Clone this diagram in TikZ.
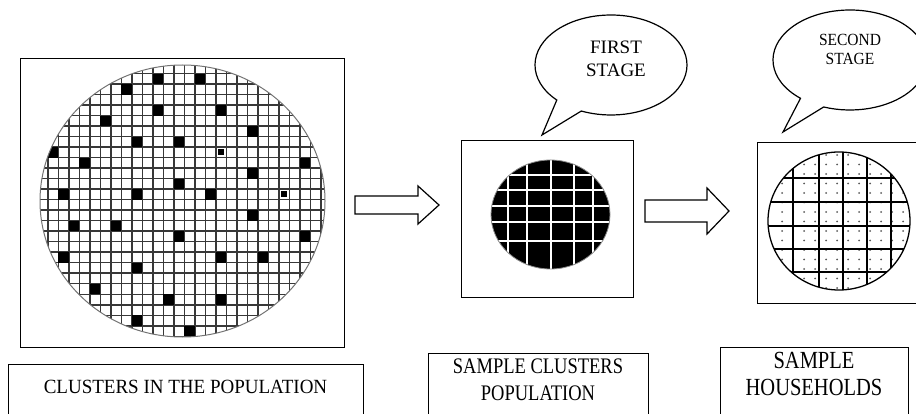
\documentclass[tikz,border=0pt]{standalone}
\usepackage{fontspec}
\setmainfont{Liberation Serif}
\usetikzlibrary{positioning}

\tikzset{
  box/.style={draw, line width=1.2pt, inner sep=0pt, anchor=north west},
  lbl/.style={align=center, inner sep=0pt},
  bubble/.style={draw, line width=1.2pt, fill=white, line join=miter},
  blk/.style={draw, line width=1.2pt, fill=white, line join=miter},
  gline/.style={line width=1.5pt, black!78},
}
\newcommand\tallstack[2]{\scalebox{1}[#1]{\begin{tabular}{@{}c@{}}#2\end{tabular}}}

\begin{document}
\begin{tikzpicture}[x=1pt,y=-1pt]
  \useasboundingbox (0,0) rectangle (916,414);
  \clip (0,0) rectangle (916,414);

  \node[box, minimum width=324, minimum height=289] (pop) at (20,58) {};
  \node[box, minimum width=172, minimum height=157] (samp) at (461,140) {};
  \node[box, minimum width=200, minimum height=161] (hh) at (757,142) {};

  \node[box, minimum width=355, minimum height=80] (lab1) at (8,364) {};
  \node[box, minimum width=220, minimum height=80] (lab2) at (428,353) {};
  \node[box, minimum width=188, minimum height=80] (lab3) at (720,347) {};
  \node[lbl, font=\fontsize{19}{27}\selectfont] (poptxt) at (185.5,388) {\tallstack{1.06}{CLUSTERS IN THE POPULATION}};
  \node[lbl, font=\fontsize{18.5}{22.5}\selectfont] (samptxt) at (538,381.5) {\tallstack{1.2}{SAMPLE CLUSTERS\\POPULATION}};
  \node[lbl, font=\fontsize{20.5}{22.5}\selectfont] (hhtxt) at (814,376.5) {\tallstack{1.2}{SAMPLE\\HOUSEHOLDS}};

  \begin{scope}
    \clip (182.5,201) ellipse [x radius=142.5, y radius=136];
    \foreach \k in {0,...,28} {
      \draw[gline] ({37.25+10.5*\k},60) -- ++(0,285);
      \draw[gline] (35,{63.25+10.5*\k}) -- ++(295,0);
    }
    \foreach \i/\j in {10/0,14/0,7/1,10/3,16/3,5/4,19/5,8/6,12/6,0/7,3/8,24/8,19/9,
                       12/10,1/11,8/11,15/11,19/13,2/14,6/14,12/15,24/15,1/17,16/17,
                       20/17,8/18,4/20,11/21,16/21,8/23,13/24}
      \fill ({47.75+10.5*\i},{73.75+10.5*\j}) rectangle ++(10.5,10.5);
    \foreach \i/\j in {16/7,22/11}
      \fill ({50+10.5*\i},{76+10.5*\j}) rectangle ++(6,6);
  \end{scope}
  \draw[black!55, line width=1pt] (182.5,201) ellipse [x radius=142.5, y radius=136];

  \draw[blk] (355,196) -- (418,196) -- (418,186) -- (439,205) -- (418,224) -- (418,214) -- (355,214) -- cycle;

  \fill (550.5,214.5) ellipse [x radius=59.5, y radius=54.5];
  \begin{scope}
    \clip (550.5,214.5) ellipse [x radius=59.5, y radius=54.5];
    \foreach \x in {508,527,551,574,593}
      \draw[white, line width=1.2pt] (\x,150) -- (\x,280);
    \foreach \y in {175,190,206,222,241}
      \draw[white, line width=1.2pt] (480,\y) -- (620,\y);
  \end{scope}
  \draw[black!45, line width=0.8pt] (550.5,214.5) ellipse [x radius=59.5, y radius=54.5];

  \draw[blk] (645,200) -- (707,200) -- (707,188) -- (729,211) -- (707,234) -- (707,222) -- (645,222) -- cycle;

  \begin{scope}
    \clip (839,221) ellipse [x radius=71, y radius=69];
    \foreach \a in {0,...,12}
      \foreach \b in {0,...,14}
        \fill[black!65] ({782+11*\a},{155+9.5*\b}) circle (1);
    \foreach \x in {793,819,843,867,891}
      \draw[line width=1.6pt] (\x,150) -- (\x,295);
    \foreach \y in {178,202,226,249,272}
      \draw[line width=1.6pt] (765,\y) -- (915,\y);
  \end{scope}
  \draw[line width=1.3pt] (839,221) ellipse [x radius=71, y radius=69];

  \coordinate (fsc) at (611,65);
  \coordinate (fstip) at (542,135);
  \draw[bubble] (fsc) ++(135.5:76 and 50) arc[start angle=135.5, end angle=473, x radius=76, y radius=50] -- (fstip) -- cycle;
  \node[lbl, font=\fontsize{19}{23}\selectfont] (fstxt) at (616,58.5) {FIRST\\STAGE};

  \coordinate (ssc) at (850,60);
  \coordinate (sstip) at (783,132);
  \draw[bubble] (ssc) ++(130:77 and 50) arc[start angle=130, end angle=470, x radius=77, y radius=50] -- (sstip) -- cycle;
  \node[lbl, font=\fontsize{15.5}{17}\selectfont] (sstxt) at (850,51) {\tallstack{1.1}{SECOND\\STAGE}};
\end{tikzpicture}
\end{document}
